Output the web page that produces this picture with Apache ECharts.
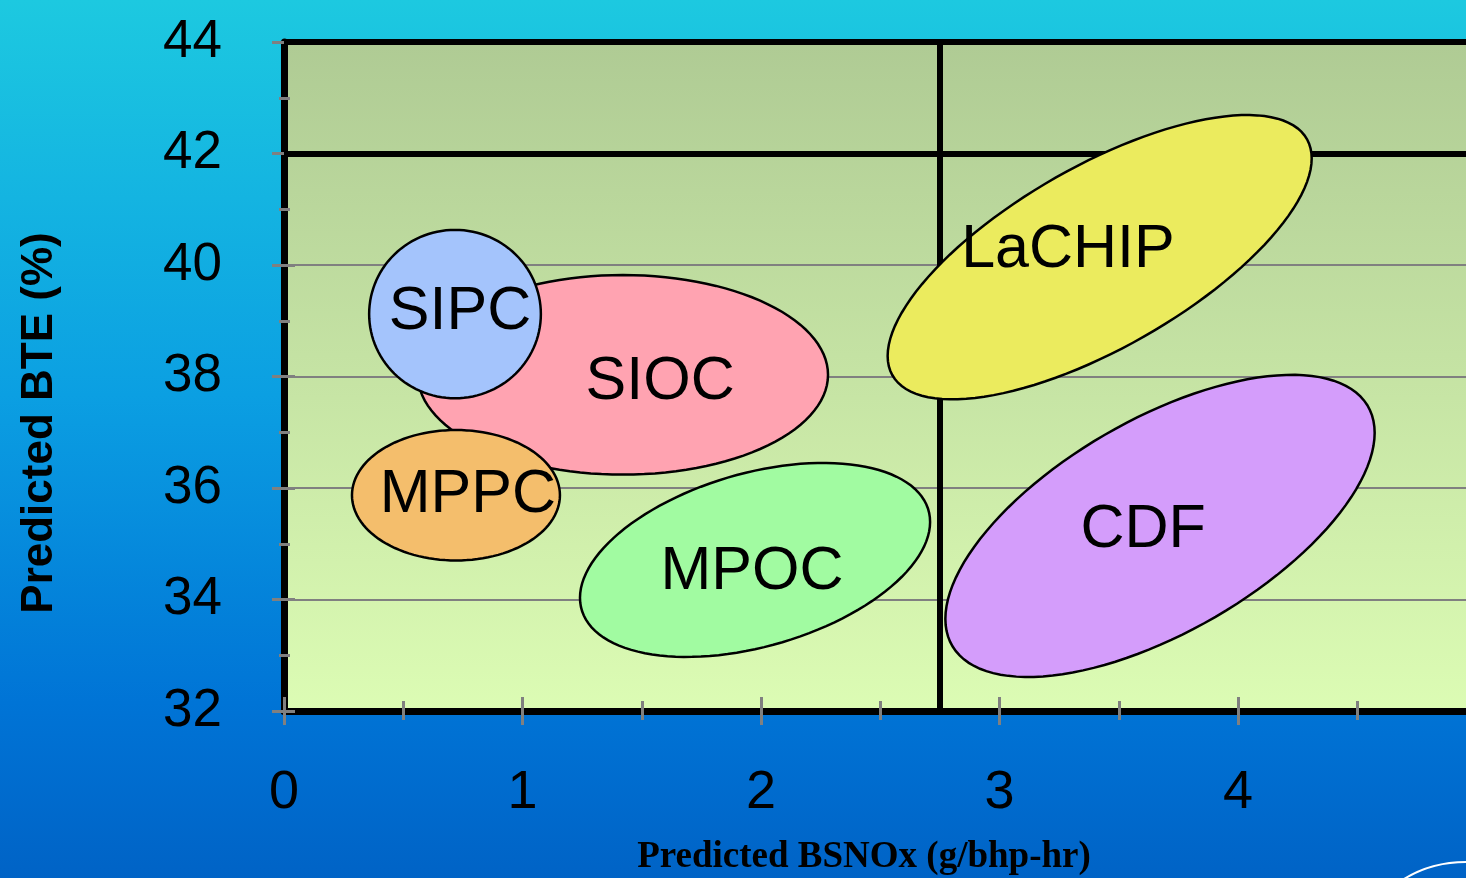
<!DOCTYPE html>
<html>
<head>
<meta charset="utf-8">
<title>Predicted BTE vs BSNOx</title>
<script src="https://cdn.jsdelivr.net/npm/echarts@6/dist/echarts.min.js"></script>
<style>
  html, body { margin: 0; padding: 0; overflow: hidden; }
  #chart { width: 1466px; height: 878px; }
</style>
</head>
<body>
<div id="chart"></div>
<script>
// Combustion concepts, drawn in painting order (SIPC sits over SIOC)
const regionNames = ['SIOC', 'SIPC', 'MPPC', 'MPOC', 'LaCHIP', 'CDF'];
// Region centres (BSNOx g/bhp-hr, BTE %)
const centerNOx = [1.421, 0.717, 0.721, 1.975, 3.42, 3.673];
const centerBTE = [38.03, 39.12, 35.87, 34.71, 40.14, 35.32];
// Half extents of each region along each axis
const halfSpanNOx = [0.86, 0.36, 0.436, 0.734, 0.889, 0.90];
const halfSpanBTE = [1.79, 1.51, 1.17, 1.74, 2.55, 2.71];
// Phase between the x and y oscillation (90 = upright ellipse, smaller = tilted up to the right)
const tiltPhase = [90, 90, 90, 67, 46, 52];
// Where each region's name sits
const labelNOx = [1.577, 0.738, 0.771, 1.962, 3.287, 3.602];
const labelBTE = [37.90, 39.16, 35.87, 34.49, 40.27, 35.25];
const regionColors = ['#ffa3b1', '#a4c4fc', '#f4be6c', '#a1fba1', '#ebeb5e', '#d49dfb'];

// Axis ranges and reference lines
const noxTicks = [0, 1, 2, 3, 4, 5];
const bteTicks = [32, 34, 36, 38, 40, 42, 44];
const bteTargetLines = [42, 44];
const noxTargetLines = [2.75];

const regionData = regionNames.map((name, i) => ({
  name: name,
  value: [centerNOx[i], centerBTE[i], halfSpanNOx[i], halfSpanBTE[i], tiltPhase[i], labelNOx[i], labelBTE[i]],
  itemStyle: { color: regionColors[i] }
}));

const chart = echarts.init(document.getElementById('chart'));

function renderRegion(params, api) {
  const cx = api.value(0), cy = api.value(1);
  const rx = api.value(2), ry = api.value(3);
  const phase = api.value(4) * Math.PI / 180;
  const pts = [];
  const N = 120;
  for (let k = 0; k < N; k++) {
    const t = 2 * Math.PI * k / N;
    pts.push(api.coord([cx + rx * Math.cos(t), cy + ry * Math.cos(t - phase)]));
  }
  const lp = api.coord([api.value(5), api.value(6)]);
  return {
    type: 'group',
    children: [
      {
        type: 'polygon',
        shape: { points: pts },
        style: { fill: api.visual('color'), stroke: '#000', lineWidth: 2.5 }
      },
      {
        type: 'text',
        x: lp[0], y: lp[1],
        style: {
          text: regionNames[params.dataIndex],
          fill: '#000',
          font: '61px "Liberation Sans", Arial, sans-serif',
          align: 'center',
          verticalAlign: 'middle'
        }
      }
    ]
  };
}

const tickGray = '#808080';

const option = {
  animation: false,
  backgroundColor: {
    type: 'linear', x: 0, y: 0, x2: 0, y2: 1,
    colorStops: [
      { offset: 0, color: '#1dc9e0' },
      { offset: 0.45, color: '#0b9fe2' },
      { offset: 0.8, color: '#0074d6' },
      { offset: 1, color: '#0063c6' }
    ]
  },
  grid: {
    left: 284, top: 42, width: 1192.5, height: 669,
    containLabel: false,
    outerBoundsMode: 'none',
    show: true,
    borderWidth: 0,
    backgroundColor: {
      type: 'linear', x: 0, y: 0, x2: 0, y2: 1,
      colorStops: [
        { offset: 0, color: '#afcb94' },
        { offset: 1, color: '#dcfcb4' }
      ]
    }
  },
  xAxis: [
    {
      type: 'value', min: noxTicks[0], max: noxTicks[noxTicks.length - 1], interval: 1,
      position: 'bottom',
      axisLine: { show: true, lineStyle: { color: '#000', width: 7 } },
      axisTick: { show: true, length: 14, lineStyle: { color: tickGray, width: 3 } },
      minorTick: { show: true, splitNumber: 2, length: 9, lineStyle: { color: tickGray, width: 3 } },
      splitLine: { show: false },
      axisLabel: {
        margin: 55, color: '#000', fontSize: 54, fontFamily: '"Liberation Sans", Arial, sans-serif',
        formatter: v => (v < noxTicks[noxTicks.length - 1] ? String(v) : '')
      }
    },
    {
      type: 'value', min: noxTicks[0], max: noxTicks[noxTicks.length - 1], interval: 1,
      position: 'bottom', offset: 0,
      axisLine: { show: false },
      axisTick: { show: true, inside: true, length: 14, lineStyle: { color: tickGray, width: 3 } },
      minorTick: { show: true, splitNumber: 2, length: 10, lineStyle: { color: tickGray, width: 3 } },
      splitLine: { show: false },
      axisLabel: { show: false }
    }
  ],
  yAxis: [
    {
      type: 'value', min: bteTicks[0], max: bteTicks[bteTicks.length - 1], interval: 2,
      position: 'left',
      axisLine: { show: true, lineStyle: { color: '#000', width: 7 } },
      axisTick: { show: true, length: 12, lineStyle: { color: tickGray, width: 3 } },
      minorTick: { show: true, splitNumber: 2, length: 5, lineStyle: { color: tickGray, width: 3 } },
      splitLine: { show: true, lineStyle: { color: tickGray, width: 2 } },
      axisLabel: {
        margin: 62, color: '#000', fontSize: 53, fontFamily: '"Liberation Sans", Arial, sans-serif'
      }
    },
    {
      type: 'value', min: bteTicks[0], max: bteTicks[bteTicks.length - 1], interval: 2,
      position: 'left', offset: 0,
      axisLine: { show: false },
      axisTick: { show: true, inside: true, length: 11, lineStyle: { color: tickGray, width: 3 } },
      minorTick: { show: true, splitNumber: 2, length: 6, lineStyle: { color: tickGray, width: 3 } },
      splitLine: { show: false },
      axisLabel: { show: false }
    }
  ],
  series: [
    {
      type: 'line',
      data: [],
      z: 2,
      markLine: {
        silent: true,
        symbol: 'none',
        animation: false,
        label: { show: false },
        lineStyle: { color: '#000', width: 6, type: 'solid' },
        data: bteTargetLines.map(v => ({ yAxis: v })).concat(noxTargetLines.map(v => ({ xAxis: v })))
      }
    },
    {
      type: 'custom',
      z: 5,
      renderItem: renderRegion,
      encode: { x: 0, y: 1 },
      data: regionData
    }
  ],
  graphic: [
    {
      type: 'text',
      x: 40, y: 423,
      rotation: Math.PI / 2,
      style: {
        text: 'Predicted BTE (%)',
        fill: '#000',
        font: 'bold 44px "Liberation Sans", Arial, sans-serif',
        align: 'center',
        verticalAlign: 'middle'
      }
    },
    {
      type: 'text',
      x: 864, y: 857,
      style: {
        text: 'Predicted BSNOx (g/bhp-hr)',
        fill: '#000',
        font: 'bold 37px "Liberation Serif", "Times New Roman", serif',
        align: 'center',
        verticalAlign: 'middle'
      }
    },
    {
      type: 'bezierCurve',
      shape: { x1: 1404, y1: 879, x2: 1466, y2: 862, cpx1: 1425, cpy1: 866, cpx2: 1445, cpy2: 862 },
      style: { stroke: '#ffffff', lineWidth: 2, fill: null }
    }
  ]
};

chart.setOption(option);
</script>
</body>
</html>
